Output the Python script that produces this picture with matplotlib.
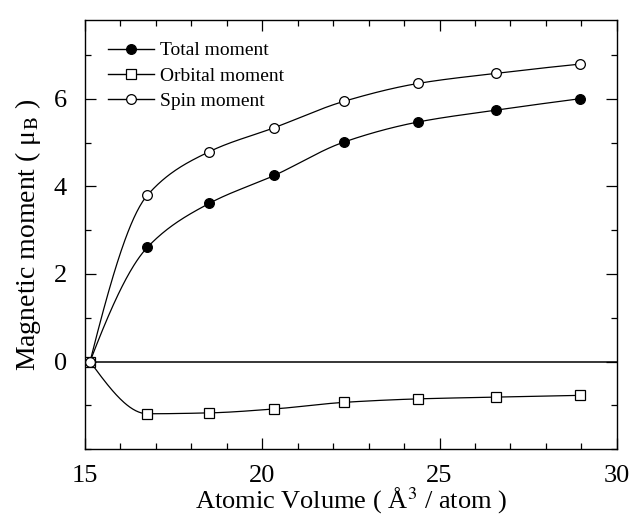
import numpy as np
import matplotlib
matplotlib.use("Agg")
import matplotlib.pyplot as plt
from matplotlib.ticker import MultipleLocator
from matplotlib.lines import Line2D

# ---- data ----
volume = [15.14, 16.76, 18.5, 20.34, 22.3, 24.4, 26.6, 28.96]
total_moment = [0.0, 2.61, 3.61, 4.25, 5.01, 5.47, 5.74, 6.00]
orbital_moment = [0.0, -1.19, -1.17, -1.08, -0.93, -0.85, -0.81, -0.77]
spin_moment = [0.0, 3.80, 4.79, 5.34, 5.94, 6.35, 6.58, 6.79]
x_ticks = [15, 20, 25, 30]
y_ticks = [0, 2, 4, 6]


def pchip_curve(x, y, n=60):
    """Monotone cubic (PCHIP) rendering of the connecting line."""
    x = np.asarray(x, float)
    y = np.asarray(y, float)
    h = np.diff(x)
    d = np.diff(y) / h
    m = np.zeros_like(y)
    for k in range(1, len(x) - 1):
        if d[k - 1] * d[k] > 0:
            w1 = 2 * h[k] + h[k - 1]
            w2 = h[k] + 2 * h[k - 1]
            m[k] = (w1 + w2) / (w1 / d[k - 1] + w2 / d[k])
        else:
            m[k] = 0.0
    m[0] = ((2 * h[0] + h[1]) * d[0] - h[0] * d[1]) / (h[0] + h[1])
    if np.sign(m[0]) != np.sign(d[0]):
        m[0] = 0
    elif np.sign(d[0]) != np.sign(d[1]) and abs(m[0]) > abs(3 * d[0]):
        m[0] = 3 * d[0]
    m[-1] = ((2 * h[-1] + h[-2]) * d[-1] - h[-1] * d[-2]) / (h[-1] + h[-2])
    if np.sign(m[-1]) != np.sign(d[-1]):
        m[-1] = 0
    xs, ys = [], []
    for k in range(len(x) - 1):
        t = np.linspace(0, 1, n)
        h00 = 2 * t**3 - 3 * t**2 + 1
        h10 = t**3 - 2 * t**2 + t
        h01 = -2 * t**3 + 3 * t**2
        h11 = t**3 - t**2
        yy = h00 * y[k] + h10 * h[k] * m[k] + h01 * y[k + 1] + h11 * h[k] * m[k + 1]
        xs.append(x[k] + t * h[k])
        ys.append(yy)
    return np.concatenate(xs), np.concatenate(ys)


plt.rcParams["font.family"] = ["Liberation Serif", "DejaVu Serif"]
plt.rcParams["mathtext.fontset"] = "stix"

fig = plt.figure(figsize=(6.3, 5.23), dpi=100)
ax = fig.add_axes([0.135, 0.141, 0.844, 0.821])

ax.axhline(0, color="black", lw=1.1, zorder=1)

series = [
    ("Total moment", total_moment, "o", "black"),
    ("Orbital moment", orbital_moment, "s", "white"),
    ("Spin moment", spin_moment, "o", "white"),
]
handles = []
for label, vals, mk, fc in series:
    cx, cy = pchip_curve(volume, vals)
    ax.plot(cx, cy, color="black", lw=0.9, zorder=2)
    ms = 7 if mk == "o" else 7.5
    ax.plot(volume, vals, linestyle="none", marker=mk, markersize=ms,
            markerfacecolor=fc, markeredgecolor="black", markeredgewidth=0.9,
            zorder=3)
    handles.append(Line2D([], [], color="black", lw=1.0, marker=mk,
                          markersize=ms, markerfacecolor=fc,
                          markeredgecolor="black", markeredgewidth=0.9,
                          label=label))

ax.set_xlim(15, 30)
ax.set_ylim(-2.0, 7.8)
ax.set_xticks(x_ticks)
ax.set_yticks(y_ticks)
ax.xaxis.set_minor_locator(MultipleLocator(1))
ax.yaxis.set_minor_locator(MultipleLocator(1))
ax.tick_params(which="both", direction="in", top=True, right=True,
               labelsize=19, width=0.9)
ax.tick_params(which="major", length=8, pad=13)
ax.tick_params(axis="x", which="major", pad=11)
ax.tick_params(which="minor", length=4)
for s in ax.spines.values():
    s.set_linewidth(1.0)

ax.set_xlabel("Atomic Volume ( Å$^3$ / atom )", fontsize=19, labelpad=-1)
ax.set_ylabel("Magnetic moment ( μ$_\\mathrm{B}$ )", fontsize=20, labelpad=8)

leg = ax.legend(handles=handles, loc="upper left", frameon=False,
                fontsize=14, handlelength=2.4, handletextpad=0.3,
                labelspacing=0.4, borderaxespad=0.4,
                bbox_to_anchor=(0.013, 0.985))

fig.savefig("out.png", dpi=100)
